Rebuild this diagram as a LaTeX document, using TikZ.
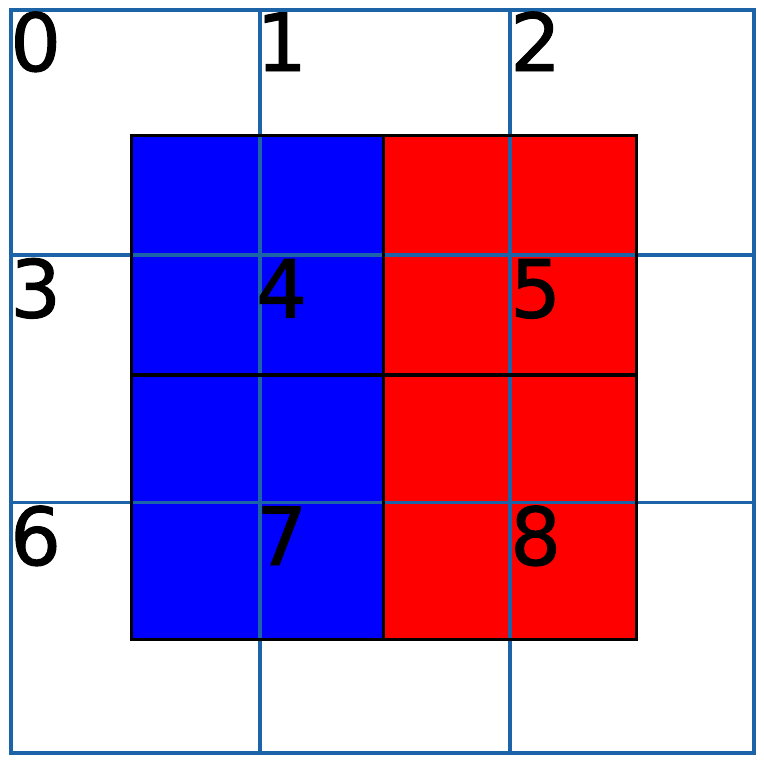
\documentclass[tikz,border=0pt]{standalone}
\usepackage{fontspec}
\setmainfont{DejaVu Sans}
\newfontfamily\digitfont[FakeBold=1.2]{DejaVu Sans}
\definecolor{gridblue}{RGB}{29,99,167}
\begin{document}
\begin{tikzpicture}[x=1pt,y=-1pt,
  gridline/.style={draw=gridblue,line width=3.8pt},
  edgeline/.style={draw=black,line width=3.4pt},
  lbl/.style={anchor=base west,inner sep=0pt,font=\digitfont\fontsize{80}{96}\selectfont}]
\useasboundingbox (0,0) rectangle (764,763);
% coloured squares
\fill[blue] (131.7,135.7) rectangle (383.3,639.5);
\fill[red] (383.3,135.7) rectangle (636.7,639.5);
% blue grid
\draw[gridline] (11,10) rectangle (754,753);
\draw[gridline] (260,10) -- (260,753);
\draw[gridline] (510,10) -- (510,753);
\draw[gridline] (11,255) -- (754,255);
\draw[gridline] (11,502.5) -- (754,502.5);
% black borders
\draw[edgeline] (131.7,135.7) rectangle (636.7,639.5);
\draw[edgeline] (383.3,135.7) -- (383.3,639.5);
\draw[edgeline] (131.7,375) -- (636.7,375);
% labels
\node[lbl] (l0) at (10,71) {0};
\node[lbl] (l1) at (256,71) {1};
\node[lbl] (l2) at (510,71) {2};
\node[lbl] (l3) at (10,317.5) {3};
\node[lbl] (l4) at (256,317.5) {4};
\node[lbl] (l5) at (510,317.5) {5};
\node[lbl] (l6) at (10,565) {6};
\node[lbl] (l7) at (256,565) {7};
\node[lbl] (l8) at (510,565) {8};
\end{tikzpicture}
\end{document}
